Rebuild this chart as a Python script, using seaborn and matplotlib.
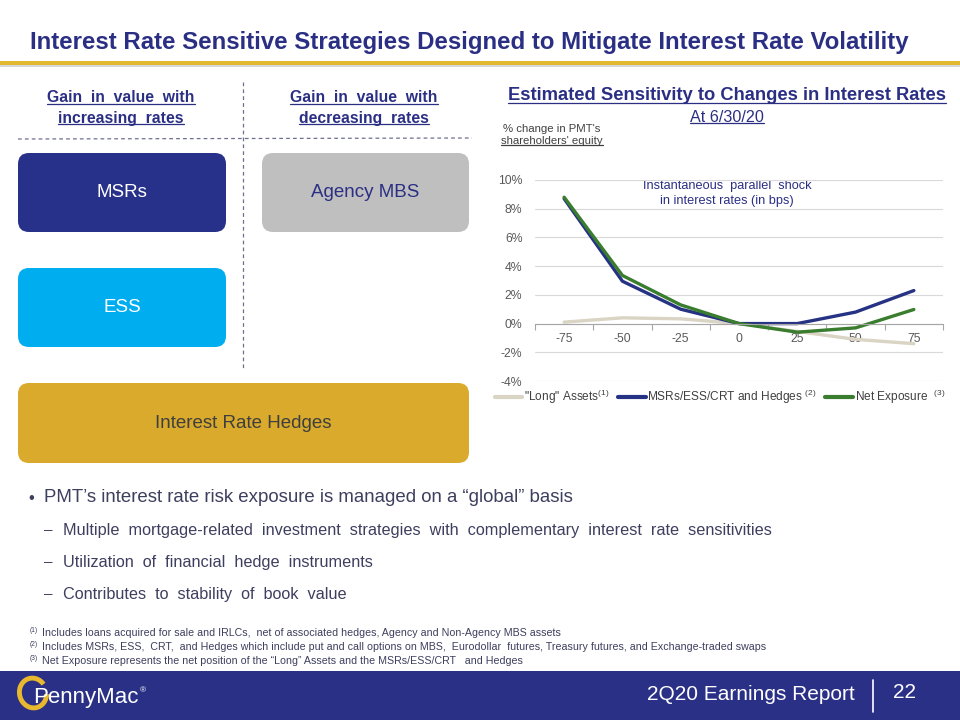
import numpy as np
import pandas as pd
import matplotlib
matplotlib.use('Agg')
import matplotlib.pyplot as plt
import seaborn as sns
from matplotlib.patches import FancyBboxPatch, Rectangle, Arc
from matplotlib.lines import Line2D

# ---------------- data ----------------
shocks = ['-75', '-50', '-25', '0', '25', '50', '75']
long_assets = [0.1, 0.4, 0.33, 0.0, -0.55, -1.1, -1.4]
msrs_hedges = [8.7, 2.95, 1.0, 0.0, 0.0, 0.8, 2.3]
net_exposure = [8.8, 3.35, 1.3, 0.0, -0.6, -0.3, 0.98]
series_names = ['"Long" Assets', 'MSRs/ESS/CRT and Hedges', 'Net Exposure']
legend_labels = ['"Long" Assets$^{(1)}$', 'MSRs/ESS/CRT and Hedges $^{(2)}$', 'Net Exposure  $^{(3)}$']
y_ticks = [-4, -2, 0, 2, 4, 6, 8, 10]

sns.set_theme(style='white')
plt.rcParams['font.family'] = ['Liberation Sans', 'DejaVu Sans']
plt.rcParams['mathtext.fontset'] = 'custom'
plt.rcParams['mathtext.rm'] = 'Liberation Sans'
plt.rcParams['mathtext.default'] = 'regular'

NAVY = '#2B2F84'
GOLD = '#E1B830'
TXT = '#3D3F5E'
GRAYTXT = '#404040'
line_colors = ['#DAD4C4', '#263283', '#3A7D2E']

fig = plt.figure(figsize=(9.6, 7.2), dpi=100)
bg = fig.add_axes([0, 0, 1, 1])
bg.set_xlim(0, 960)
bg.set_ylim(720, 0)
bg.axis('off')
bg.set_zorder(0)

under = []

def T(x, y, s, underline=False, **kw):
    t = bg.text(x, y, s, **kw)
    if underline:
        under.append((t, kw.get('color', 'black')))
    return t

# ---------------- title ----------------
T(30, 42, 'Interest Rate Sensitive Strategies Designed to Mitigate Interest Rate Volatility',
  fontsize=17.3, fontweight='bold', color=NAVY, va='center', ha='left')
bg.add_patch(Rectangle((0, 60.5), 960, 4, color=GOLD, lw=0))
bg.add_patch(Rectangle((0, 64.5), 960, 2.5, color='#D8D8D8', lw=0))

# ---------------- left panel ----------------
for cx, l1, l2 in [(121, 'Gain  in  value  with', 'increasing  rates'),
                   (364, 'Gain  in  value  with', 'decreasing  rates')]:
    T(cx, 98, l1, underline=True, fontsize=11.3, fontweight='bold', color=NAVY, ha='center', va='center')
    T(cx, 118, l2, underline=True, fontsize=11.3, fontweight='bold', color=NAVY, ha='center', va='center')

bg.plot([18, 472], [139, 138], ls=(0, (3, 2.5)), color='#6E7090', lw=0.9)
bg.plot([243, 243], [82, 370], ls=(0, (3, 2.5)), color='#6E7090', lw=0.9)

def box(x0, y0, x1, y1, fc, label, tc):
    bg.add_patch(FancyBboxPatch((x0, y0), x1 - x0, y1 - y0,
                                boxstyle='round,pad=0,rounding_size=11', fc=fc, ec='none'))
    T((x0 + x1) / 2, (y0 + y1) / 2, label, fontsize=13.5, color=tc, ha='center', va='center')

box(18, 153, 226, 232, '#28318A', 'MSRs', 'white')
box(262, 153, 469, 232, '#BFBFBF', 'Agency MBS', NAVY)
box(18, 268, 226, 347, '#00AEEF', 'ESS', 'white')
box(18, 383, 469, 463, '#D9AA2C', 'Interest Rate Hedges', '#3F3F3F')

# ---------------- chart titles ----------------
T(727, 96, 'Estimated Sensitivity to Changes in Interest Rates', underline=True,
  fontsize=13.2, fontweight='bold', color=NAVY, ha='center', va='center')
T(727, 117, 'At 6/30/20', underline=True, fontsize=11.6, color=NAVY, ha='center', va='center')
T(552, 129, "% change in PMT's", fontsize=8.2, color=GRAYTXT, ha='center', va='center')
T(552, 141, "shareholders' equity", underline=True, fontsize=8.2, color=GRAYTXT, ha='center', va='center')
T(727, 186, 'Instantaneous  parallel  shock', fontsize=9.2, color=NAVY, ha='center', va='center')
T(727, 201, 'in interest rates (in bps)', fontsize=9.2, color=NAVY, ha='center', va='center')

# ---------------- chart ----------------
ax = fig.add_axes([535 / 960, 1 - 381 / 720, 408 / 960, 201 / 720])
ax.set_zorder(2)
ax.patch.set_alpha(0)

rows = []
for name, vals in zip(series_names, [long_assets, msrs_hedges, net_exposure]):
    for i, v in enumerate(vals):
        rows.append({'pos': i, 'value': v, 'series': name})
df = pd.DataFrame(rows)
sns.lineplot(data=df, x='pos', y='value', hue='series', hue_order=series_names,
             palette=line_colors, linewidth=2.4, ax=ax, legend=False, sort=False)

ax.set_xlim(-0.5, 6.5)
ax.set_ylim(-4, 10)
ax.set_yticks(y_ticks)
ax.set_yticklabels([f'{v}%' for v in y_ticks])
ax.set_xticks(range(len(shocks)))
ax.set_xticklabels(shocks)
ax.set_xticks(np.arange(-0.5, 7, 1), minor=True)
ax.set_xlabel('')
ax.set_ylabel('')
ax.yaxis.grid(True, color='#D9D9D9', lw=0.8)
ax.xaxis.grid(False)
for s in ['top', 'right', 'left']:
    ax.spines[s].set_visible(False)
ax.spines['bottom'].set_position(('data', 0))
ax.spines['bottom'].set_color('#A6A6A6')
ax.spines['bottom'].set_linewidth(0.8)
ax.tick_params(axis='x', which='major', length=0, pad=7, labelsize=8.8, labelcolor='#595959')
ax.tick_params(axis='x', which='minor', length=4, width=0.8, color='#A6A6A6', direction='out', bottom=True)
ax.tick_params(axis='y', length=0, pad=9, labelsize=8.8, labelcolor='#595959')

handles = [Line2D([0], [0], color=c, lw=3) for c in line_colors]
ax.legend(handles, legend_labels, loc='center', bbox_to_anchor=(720 / 960, 1 - 397 / 720),
          bbox_transform=fig.transFigure, ncol=3, frameon=False, fontsize=8.6,
          handlelength=2.3, handletextpad=0.15, columnspacing=0.7, labelcolor='#404040')

# ---------------- bullets ----------------
T(28, 498, '•', fontsize=12, color=TXT, va='center')
T(44, 498, "PMT’s interest rate risk exposure is managed on a “global” basis", fontsize=13.4, color=TXT, va='center')
subs = ['Multiple  mortgage-related  investment  strategies  with  complementary  interest  rate  sensitivities',
        'Utilization  of  financial  hedge  instruments',
        'Contributes  to  stability  of  book  value']
for y, s in zip([530, 562, 594], subs):
    T(44, y, '–', fontsize=11, color=TXT, va='center')
    T(63, y, s, fontsize=11.7, color=TXT, va='center')

# ---------------- footnotes ----------------
notes = ['Includes loans acquired for sale and IRLCs,  net of associated hedges, Agency and Non-Agency MBS assets',
         'Includes MSRs, ESS,  CRT,  and Hedges which include put and call options on MBS,  Eurodollar  futures, Treasury futures, and Exchange-traded swaps',
         'Net Exposure represents the net position of the “Long” Assets and the MSRs/ESS/CRT   and Hedges']
for i, (y, s) in enumerate(zip([633, 647, 661], notes)):
    T(30, y - 2, f'({i + 1})', fontsize=4.8, color=TXT, va='center')
    T(42, y, s, fontsize=7.7, color=TXT, va='center')

# ---------------- footer ----------------
bg.add_patch(Rectangle((0, 671), 960, 49, color='#2B3087', lw=0))
bg.add_patch(Arc((33, 693), 27, 30, angle=-15, theta1=20, theta2=335, color='#E8B82E', lw=3.5))
T(33, 697, 'PennyMac', fontsize=16, color='white', va='center', ha='left')
T(140, 691, '®', fontsize=6, color='white', va='center')
T(855, 694, '2Q20 Earnings Report', fontsize=15, color='white', va='center', ha='right')
bg.plot([873, 873], [680, 712], color='white', lw=1.2)
T(905, 692, '22', fontsize=15, color='white', va='center', ha='center')

# ---------------- underlines ----------------
fig.canvas.draw()
r = fig.canvas.get_renderer()
for t, c in under:
    bb = t.get_window_extent(r)
    yy = 720 - (bb.y0 + 1.5)
    bg.plot([bb.x0, bb.x1], [yy, yy], color=c, lw=0.9)

fig.savefig('out.png', dpi=100)
